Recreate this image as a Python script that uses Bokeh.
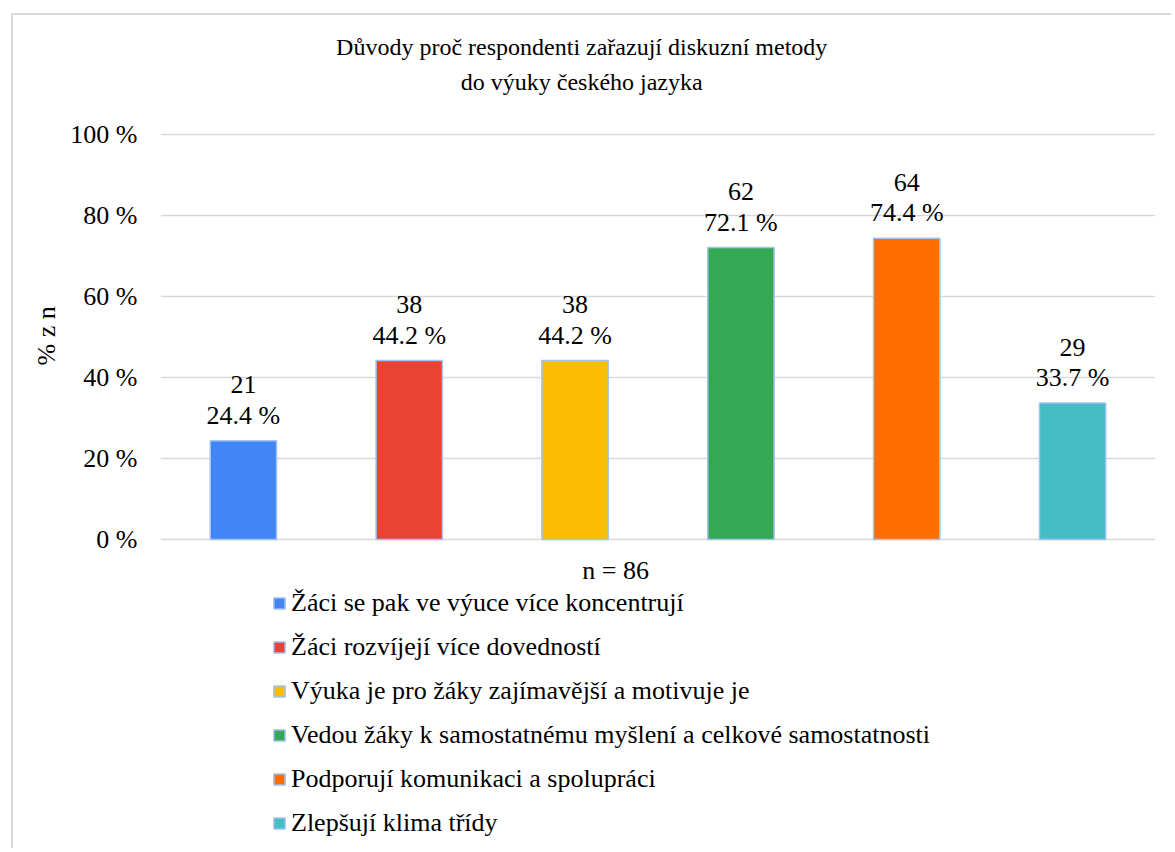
from bokeh.plotting import figure
from bokeh.models import (ColumnDataSource, Legend, LegendItem, Title, FixedTicker,
                          Range1d, FactorRange, Label)
from bokeh.core.properties import value
from bokeh.embed import file_html
from bokeh.resources import INLINE

categories = [
    "Žáci se pak ve výuce více koncentrují",
    "Žáci rozvíjejí více dovedností",
    "Výuka je pro žáky zajímavější a motivuje je",
    "Vedou žáky k samostatnému myšlení a celkové samostatnosti",
    "Podporují komunikaci a spolupráci",
    "Zlepšují klima třídy",
]
counts = [21, 38, 38, 62, 64, 29]
percents = [24.4, 44.2, 44.2, 72.1, 74.4, 33.7]
colors = ["#4285f4", "#ea4335", "#fbbc04", "#34a853", "#ff6d01", "#46bdc6"]
y_ticks = [0, 20, 40, 60, 80, 100]
y_tick_labels = ["0 %", "20 %", "40 %", "60 %", "80 %", "100 %"]
title_line1 = "Důvody proč respondenti zařazují diskuzní metody"
title_line2 = "do výuky českého jazyka"
y_title = "% z n"
x_title = "n = 86"

FONT = "Liberation Serif"
FS = "26px"
FS_TITLE = "24px"

labels = [f"{c}\n{p:.1f} %" for c, p in zip(counts, percents)]
source = ColumnDataSource(data=dict(cat=categories, pct=percents, color=colors, label=labels))

# The plotting frame spans the whole canvas height; the value axis only labels 0-100 %.
p = figure(
    width=1160, height=835,
    x_range=FactorRange(factors=categories, range_padding=0),
    y_range=Range1d(-76.8, 129.4),
    output_backend="svg", toolbar_location=None,
    min_border_left=147, min_border_right=18, min_border_top=0, min_border_bottom=0,
    margin=(13, 0, 0, 11),
)
p.styles = {"border-left": "2px solid #d9d9d9", "border-top": "2px solid #d9d9d9"}
p.outline_line_color = None
p.title = None

r = p.vbar(x="cat", top="pct", width=0.4, bottom=0, source=source,
           fill_color="color", line_color="#a4c2f4", line_width=1.5)

p.text(x="cat", y="pct", text="label", source=source,
       text_align="center", text_baseline="bottom", y_offset=-11,
       text_font=value(FONT), text_font_size=FS, text_color="#000000",
       text_line_height=1.05)

# axes
p.xaxis.visible = False
p.xgrid.visible = False
p.ygrid.grid_line_color = "#d9d9d9"
p.ygrid.grid_line_width = 1.5
p.yaxis.ticker = FixedTicker(ticks=y_ticks)
p.yaxis.major_label_overrides = {t: l for t, l in zip(y_ticks, y_tick_labels)}
p.yaxis.axis_line_color = None
p.yaxis.major_tick_line_color = None
p.yaxis.minor_tick_line_color = None
p.yaxis.major_label_standoff = 17
p.yaxis.major_label_text_font = FONT
p.yaxis.major_label_text_font_size = FS
p.yaxis.major_label_text_color = "#000000"

# value-axis title, placed beside the 0-100 % part of the axis
p.add_layout(Title(text=y_title, align="left", offset=485, text_font=FONT,
                   text_font_size=FS, text_font_style="normal", text_color="#000000",
                   standoff=14), "left")

# chart title and category-axis title
for txt, x, y, fs in [(title_line1, 2.54, 121.5, FS_TITLE),
                      (title_line2, 2.54, 113.1, FS_TITLE),
                      (x_title, 2.744, -7.65, FS)]:
    p.add_layout(Label(x=x, y=y, text=txt, text_align="center", text_baseline="middle",
                       text_font=FONT, text_font_size=fs, text_color="#000000"))

legend = Legend(
    items=[LegendItem(label=c, renderers=[r], index=i) for i, c in enumerate(categories)],
    location=(112, 12), orientation="vertical",
    glyph_width=14, glyph_height=14, label_standoff=5, spacing=14, padding=0, margin=0,
    label_text_font=FONT, label_text_font_size=FS, label_text_color="#000000",
    border_line_color=None, background_fill_alpha=0,
)
p.add_layout(legend, "center")

open("out.html", "w").write(file_html(p, INLINE))
